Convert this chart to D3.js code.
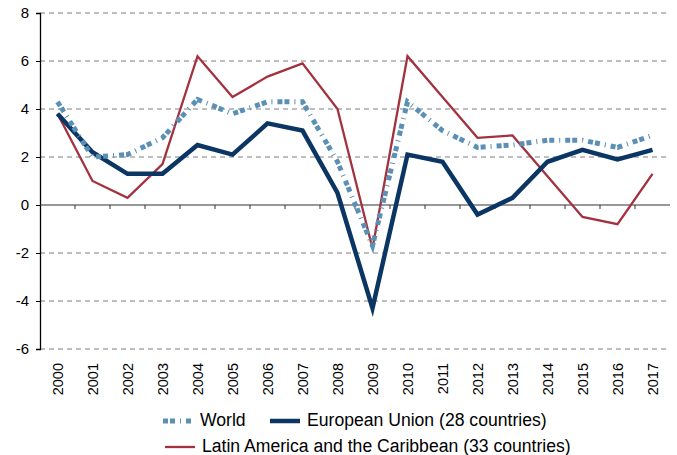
<!DOCTYPE html>
<html>
  <head>
    <meta charset="utf-8">
    <script src="https://d3js.org/d3.v7.min.js"></script>
    <style>
      body { margin: 0; background: #fff; }
      text { font-family: "Liberation Sans", Arial, sans-serif; fill: #000; }
    </style>
  </head>
  <body>
    <script>
      // Data
      const years = ["2000", "2001", "2002", "2003", "2004", "2005", "2006", "2007", "2008",
        "2009", "2010", "2011", "2012", "2013", "2014", "2015", "2016", "2017"];
      const world = [4.3, 2.0, 2.1, 2.8, 4.4, 3.8, 4.3, 4.3, 1.8, -1.7, 4.3, 3.1, 2.4, 2.5, 2.7, 2.7, 2.4, 2.9];
      const eu = [3.8, 2.2, 1.3, 1.3, 2.5, 2.1, 3.4, 3.1, 0.5, -4.3, 2.1, 1.8, -0.4, 0.3, 1.8, 2.3, 1.9, 2.3];
      const latam = [3.8, 1.0, 0.3, 1.7, 6.2, 4.5, 5.35, 5.9, 4.0, -1.8, 6.2, 4.5, 2.8, 2.9, 1.2, -0.5, -0.8, 1.3];
      const yTicks = [-6, -4, -2, 0, 2, 4, 6, 8];

      const width = 677, height = 455;
      const plotLeft = 40, plotRight = 670, plotTop = 13, plotBottom = 349;

      const svg = d3.select("body").append("svg")
        .attr("width", width)
        .attr("height", height);

      const x = d3.scaleBand().domain(years).range([plotLeft, plotRight]);
      const y = d3.scaleLinear().domain([-6, 8]).range([plotBottom, plotTop]);

      // Dashed gridlines
      svg.append("g")
        .selectAll("line")
        .data(yTicks.filter(d => d !== 0))
        .enter()
        .append("line")
        .attr("x1", plotLeft)
        .attr("x2", plotRight - 3)
        .attr("y1", d => y(d))
        .attr("y2", d => y(d))
        .attr("stroke", "#7f7f7f")
        .attr("stroke-width", 1)
        .attr("stroke-dasharray", "5,4");

      // Y axis (plain hyphen for negatives, like the original)
      const yAxis = svg.append("g")
        .attr("transform", `translate(${plotLeft},0)`)
        .call(d3.axisLeft(y).tickValues(yTicks).tickSize(4).tickPadding(7).tickFormat(d => String(d)));
      yAxis.select(".domain").attr("stroke", "#000").attr("stroke-width", 1.3);
      yAxis.selectAll(".tick line").attr("stroke", "#000");
      yAxis.selectAll("text").style("font-size", "15px");

      // Zero line with category ticks
      svg.append("line")
        .attr("x1", plotLeft)
        .attr("x2", plotRight)
        .attr("y1", y(0))
        .attr("y2", y(0))
        .attr("stroke", "#333")
        .attr("stroke-width", 1.2);
      svg.append("g")
        .selectAll("line")
        .data(years.slice(1))
        .enter()
        .append("line")
        .attr("x1", d => x(d))
        .attr("x2", d => x(d))
        .attr("y1", y(0))
        .attr("y2", y(0) + 4)
        .attr("stroke", "#333")
        .attr("stroke-width", 1);

      // Rotated year labels below the plot
      svg.append("g")
        .selectAll("text")
        .data(years)
        .enter()
        .append("text")
        .attr("transform", d => `translate(${x(d) + x.bandwidth() / 2 + 5},${plotBottom + 14}) rotate(-90)`)
        .attr("text-anchor", "end")
        .style("font-size", "14.5px")
        .text(d => d);

      const line = d3.line()
        .x((d, i) => x(years[i]) + x.bandwidth() / 2)
        .y(d => y(d));

      const series = [
        { name: "Latin America and the Caribbean (33 countries)", values: latam, color: "#a3323f", w: 2.3, dash: null },
        { name: "European Union (28 countries)", values: eu, color: "#0b3663", w: 4.5, dash: null },
        { name: "World", values: world, color: "#5a8fb6", w: 5, dash: "5,2,5,5,1,5" }
      ];

      svg.append("g")
        .selectAll("path")
        .data(series)
        .enter()
        .append("path")
        .attr("d", d => line(d.values))
        .attr("fill", "none")
        .attr("stroke", d => d.color)
        .attr("stroke-width", d => d.w)
        .attr("stroke-dasharray", d => d.dash)
        .attr("stroke-linejoin", "miter");

      // Legend
      const legendItems = [
        { s: series[2], x: 163, y: 421 },
        { s: series[1], x: 270, y: 421 },
        { s: series[0], x: 165, y: 447 }
      ];
      const legend = svg.append("g");
      legend.selectAll("line")
        .data(legendItems)
        .enter()
        .append("line")
        .attr("x1", d => d.x)
        .attr("x2", d => d.x + 30)
        .attr("y1", d => d.y)
        .attr("y2", d => d.y)
        .attr("stroke", d => d.s.color)
        .attr("stroke-width", d => d.s.w)
        .attr("stroke-dasharray", d => d.s.dash);
      legend.selectAll("text")
        .data(legendItems)
        .enter()
        .append("text")
        .attr("x", d => d.x + 37)
        .attr("y", d => d.y + 5)
        .style("font-size", "17.6px")
        .text(d => d.s.name);
    </script>
  </body>
</html>
